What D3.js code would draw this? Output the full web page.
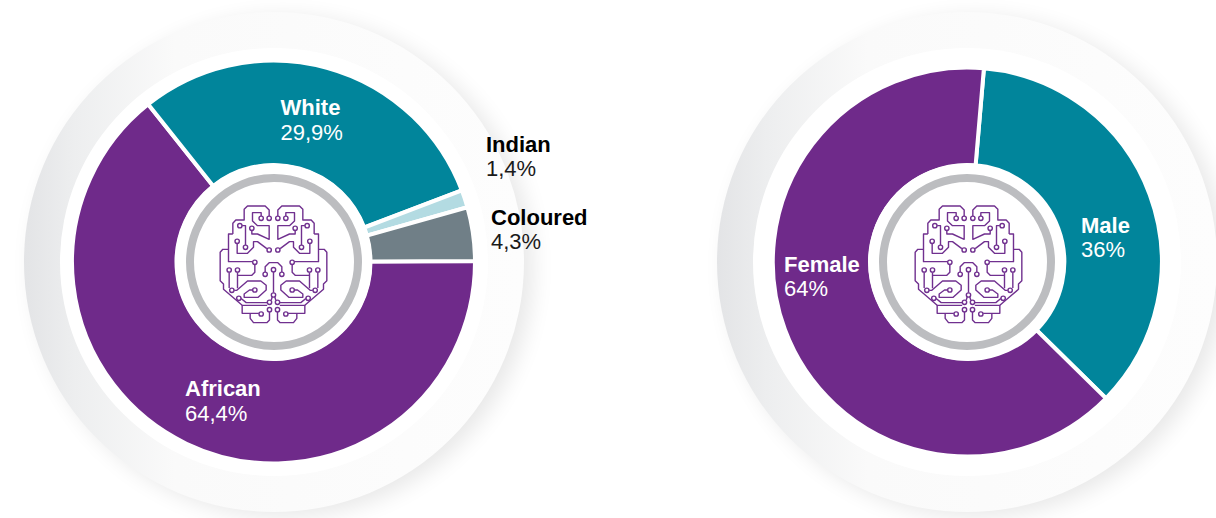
<!DOCTYPE html>
<html lang="en">
<head>
    <meta charset="UTF-8">
    <title>Race and gender donuts</title>
    <script src="https://cdn.jsdelivr.net/npm/d3@7/dist/d3.min.js"></script>
    <style>
  html, body { margin: 0; padding: 0; background: #fff; overflow: hidden; }
  svg { display: block; }
  text { font-family: "Liberation Sans", Arial, sans-serif; font-size: 22px; }
  .name { font-weight: bold; }
  .brain path { fill: none; stroke: #70308f; stroke-width: 4.2px; stroke-linejoin: round; }
  .brain circle { fill: #fff; stroke: #70308f; stroke-width: 4.2px; }
    </style>
</head>
<body>
    <svg width="1216" height="518"></svg>
    <script>
        // race split
        var raceNames = ["African", "White", "Indian", "Coloured"];
        var raceValues = [64.4, 29.9, 1.4, 4.3];
        var raceLabels = ["64,4%", "29,9%", "1,4%", "4,3%"];

        // gender split
        var genderNames = ["Male", "Female"];
        var genderValues = [36, 64];
        var genderLabels = ["36%", "64%"];

        var colors = {
            African: "#6f2a8a", White: "#01859b", Indian: "#b3dbe2", Coloured: "#707f87",
            Male: "#01859b", Female: "#6f2a8a"
        };

        var svg = d3.select("svg");
        var defs = svg.append("defs");

        defs.append("filter").attr("id", "soft")
            .attr("x", "-20%").attr("y", "-20%").attr("width", "140%").attr("height", "140%")
            .append("feGaussianBlur").attr("stdDeviation", 11);

        // brain icon, traced at 3x, left half only and then mirrored
        var brainPaths = [
            "M297,168V150L285,138H232L222,148V180H197L188,190V222",
            "M273,168V158H247V183L262,197H297V238L262,222H245V212",
            "M216,197H226V255",
            "M201,251V280H232L250,262V245H262L290,266",
            "M188,222H175V305H247",
            "M175,268H158L150,277V362L160,372V388L188,412L216,436H291",
            "M177,337V384",
            "M202,337V385M202,346H245L254,337V314",
            "M192,391H200L232,363H272L288,376V390L264,412H222V402L238,390H247",
            "M212,415L228,428H291",
            "M216,436V460H266",
            "M240,460V475L250,488H290L298,480V456",
            "M303,421L306,411"
        ];
        var brainDots = [[297,175],[273,175],[245,205],[209,197],[226,262],[201,244],[297,270],[254,307],
            [177,330],[202,330],[185,391],[254,390],[206,415],[273,462],[298,427],[298,449],[285,343]];

        function drawBrain(g, cx, cy) {
            var brain = g.append("g").attr("class", "brain")
                .attr("transform", "translate(" + cx + "," + cy + ") scale(0.3333) translate(-310,-306)");
            [false, true].forEach(function(flip) {
                var side = brain.append("g").attr("transform", flip ? "translate(620,0) scale(-1,1)" : null);
                side.selectAll("path").data(brainPaths).enter().append("path").attr("d", function(d) { return d; });
                side.selectAll("circle").data(brainDots).enter().append("circle")
                    .attr("cx", function(d) { return d[0]; })
                    .attr("cy", function(d) { return d[1]; })
                    .attr("r", 6.5);
            });
            // the stem sits on the middle line
            brain.append("path").attr("d", "M285,336V320L297,308H323L335,320V336M310,336V398");
            brain.selectAll("circle.mid").data([[310,329],[310,405]]).enter().append("circle")
                .attr("class", "mid")
                .attr("cx", function(d) { return d[0]; })
                .attr("cy", function(d) { return d[1]; })
                .attr("r", 6.5);
        }

        function drawDonut(opts) {
            var cx = opts.cx, cy = 262;
            var id = "halo" + cx;

            var grad = defs.append("linearGradient").attr("id", id)
                .attr("gradientUnits", "userSpaceOnUse")
                .attr("x1", cx - 250).attr("x2", cx + 250).attr("y1", 0).attr("y2", 0);
            grad.append("stop").attr("offset", "0").attr("stop-color", "#e3e4e6");
            grad.append("stop").attr("offset", "0.1").attr("stop-color", "#edeeef");
            grad.append("stop").attr("offset", "0.3").attr("stop-color", "#fafafa");
            grad.append("stop").attr("offset", "1").attr("stop-color", "#fdfdfd");

            var g = svg.append("g");

            // soft shadow, then the pale disc and the white band round the ring
            g.append("circle").attr("cx", cx + 9).attr("cy", cy + 5).attr("r", 250)
                .attr("fill", "#000").attr("opacity", 0.09).attr("filter", "url(#soft)");
            g.append("circle").attr("cx", cx).attr("cy", cy).attr("r", 250).attr("fill", "url(#" + id + ")");
            g.append("circle").attr("cx", cx).attr("cy", cy).attr("r", 214).attr("fill", "#fff");

            var slices = d3.pie()
                .sort(null)
                .startAngle(opts.start)
                .endAngle(opts.start + 2 * Math.PI)
                .value(function(d) { return d; })(opts.values);

            var arc = d3.arc().innerRadius(97).outerRadius(opts.radius + 2);

            g.append("g").attr("transform", "translate(" + opts.arcX + "," + cy + ")")
                .selectAll("path").data(slices).enter().append("path")
                .attr("d", arc)
                .attr("fill", function(d, i) { return colors[opts.names[i]]; })
                .attr("stroke", "#fff")
                .attr("stroke-width", 4);

            g.append("circle").attr("cx", cx - 0.5).attr("cy", cy).attr("r", 98.5).attr("fill", "#fff");
            g.append("circle").attr("cx", cx).attr("cy", cy).attr("r", 84)
                .attr("fill", "#fff").attr("stroke", "#bcbdc0").attr("stroke-width", 8);

            drawBrain(g, cx + opts.brainShift, cy);

            opts.names.forEach(function(name, i) {
                var at = opts.spots[i];
                var label = g.append("g").attr("transform", "translate(" + at[0] + "," + at[1] + ")");
                label.append("text").attr("class", "name").attr("fill", at[3] ? "#000" : "#fff").text(name);
                label.append("text").attr("y", at[2]).attr("fill", at[3] ? "#1a1a1a" : "#fff").text(opts.labels[i]);
            });
        }

        drawDonut({
            cx: 274, arcX: 273.5, radius: 199.5, brainShift: -0.5,
            start: 89.7 * Math.PI / 180,
            names: raceNames, values: raceValues, labels: raceLabels,
            spots: [[185, 396, 24.5], [280.5, 115, 24.5], [486, 152, 24, true], [491, 225, 23.5, true]]
        });

        drawDonut({
            cx: 967, arcX: 967.3, radius: 192.5, brainShift: 1.5,
            start: 4.9 * Math.PI / 180,
            names: genderNames, values: genderValues, labels: genderLabels,
            spots: [[1081, 233, 23.5], [784, 272, 23.5]]
        });
    </script>
</body>
</html>
